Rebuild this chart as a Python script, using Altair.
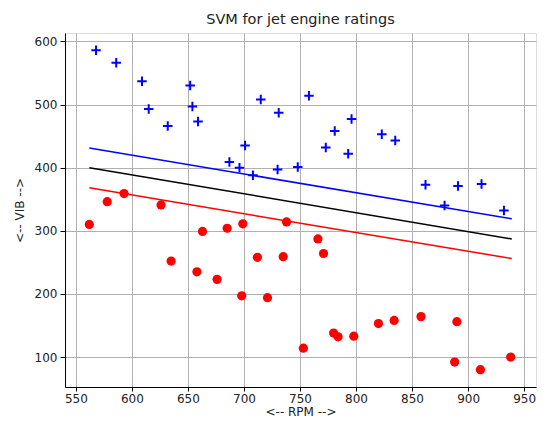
import altair as alt
import pandas as pd

# Class +1 (blue plus markers)
rpm_plus = [568, 586, 609, 615, 632, 652, 654, 659, 687, 696, 701, 708, 715, 731,
            730, 748, 758, 796, 781, 773, 793, 823, 835, 862, 891, 912, 879, 932]
vib_plus = [586, 566, 537, 493, 466, 530, 497, 473, 409, 400, 435, 388, 508, 487,
            397, 401, 514, 477, 458, 432, 422, 453, 443, 373, 371, 374, 340, 332]

# Class -1 (red dots)
rpm_dot = [562, 578, 593, 626, 635, 663, 658, 676, 685, 699, 698, 712, 721, 735,
           738, 753, 766, 771, 780, 784, 798, 820, 834, 858, 890, 888, 911, 938]
vib_dot = [310, 346, 359, 341, 252, 299, 235, 223, 304, 311, 197, 258, 194, 259,
           314, 114, 287, 264, 138, 132, 133, 153, 158, 164, 156, 92, 80, 100]

# Decision boundary and margins (endpoints)
line_rpm = [562, 939]
margin_plus = [431, 319]
boundary = [400, 287]
margin_minus = [368, 256]

plus_df = pd.DataFrame({"rpm": rpm_plus, "vib": vib_plus})
dot_df = pd.DataFrame({"rpm": rpm_dot, "vib": vib_dot})
lines_df = pd.DataFrame({
    "rpm": line_rpm * 3,
    "vib": margin_plus + boundary + margin_minus,
    "which": ["plus"] * 2 + ["boundary"] * 2 + ["minus"] * 2,
})

FONT = "DejaVu Sans"
xs = alt.Scale(domain=[540.3, 960.6], nice=False, zero=False)
ys = alt.Scale(domain=[52.5, 613.3], nice=False, zero=False)

xax = alt.Axis(values=list(range(550, 951, 50)), title="<-- RPM -->",
               labelFont=FONT, labelFontSize=12, titleFont=FONT, titleFontSize=12,
               titleFontWeight="normal", labelColor="#222", titleColor="#222",
               grid=True, gridColor="#b0b0b0", gridWidth=1, tickColor="black",
               tickSize=4, domainColor="black", labelPadding=2, titlePadding=2)
yax = alt.Axis(values=list(range(100, 601, 100)), title="<-- VIB -->",
               labelFont=FONT, labelFontSize=12, titleFont=FONT, titleFontSize=12,
               titleFontWeight="normal", labelColor="#222", titleColor="#222",
               grid=True, gridColor="#b0b0b0", gridWidth=1, tickColor="black",
               tickSize=5, domainColor="black", labelPadding=3, titlePadding=8)

base_x = alt.X("rpm:Q", scale=xs, axis=xax)
base_y = alt.Y("vib:Q", scale=ys, axis=yax)

lines = alt.Chart(lines_df).mark_line(strokeWidth=1.5, clip=True).encode(
    x=base_x, y=base_y,
    detail="which:N",
    color=alt.Color("which:N", scale=alt.Scale(
        domain=["plus", "boundary", "minus"],
        range=["#0000ff", "#000000", "#ff0000"]), legend=None),
)

plus = alt.Chart(plus_df).mark_point(
    shape="M-1,0L1,0M0,-1L0,1", filled=False, color="#0000ff",
    strokeWidth=2, size=90, opacity=1).encode(x=base_x, y=base_y)

dots = alt.Chart(dot_df).mark_circle(color="#ff0000", size=85, opacity=1).encode(
    x=base_x, y=base_y)

chart = alt.layer(lines, plus, dots).properties(
    width=471, height=354,
    title=alt.TitleParams("SVM for jet engine ratings", font=FONT, fontSize=14.5,
                          fontWeight="normal", color="#222", offset=6),
    autosize=alt.AutoSizeParams(type="none"),
    padding={"left": 57, "top": 25, "right": 1, "bottom": 32},
).configure_view(stroke="black", strokeWidth=1).configure(background="white")

chart.save("out.html", embed_options={"renderer": "svg", "actions": False})
